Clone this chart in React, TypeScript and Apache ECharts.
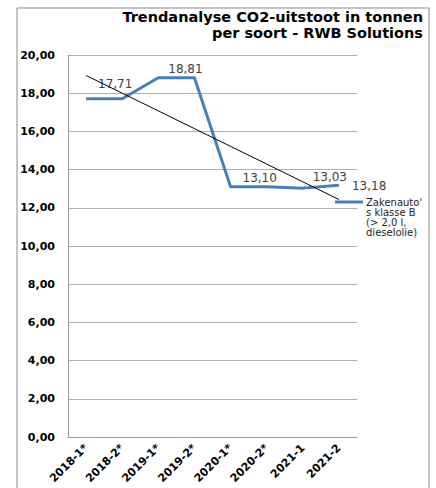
import React, { useEffect, useRef } from 'react';
import * as echarts from 'echarts';

const categories = ['2018-1*', '2018-2*', '2019-1*', '2019-2*', '2020-1*', '2020-2*', '2021-1', '2021-2'];
const seriesName = "Zakenauto's klasse B (> 2,0 l, dieselolie)";
const legendLines = ["Zakenauto'", 's klasse B', '(> 2,0 l,', 'dieselolie)'];
const values = [17.71, 17.71, 18.81, 18.81, 13.1, 13.1, 13.03, 13.18];
const labelledIndices = [1, 3, 5, 6, 7];
const titleLines = ['Trendanalyse CO2-uitstoot in tonnen', 'per soort - RWB Solutions'];
const yMin = 0;
const yMax = 20;
const yInterval = 2;

const labelLayout: Record<number, { position: string; offset: number[] }> = {
  1: { position: 'top', offset: [-7, -4] },
  3: { position: 'top', offset: [-9, 2] },
  5: { position: 'top', offset: [-7, 2] },
  6: { position: 'top', offset: [27, 0] },
  7: { position: 'right', offset: [8, 1] },
};

const fmt = (v: number) => v.toFixed(2).replace('.', ',');

function trend(ys: number[]): number[] {
  const n = ys.length;
  const xm = (n - 1) / 2;
  const ym = ys.reduce((a, b) => a + b, 0) / n;
  let sxy = 0;
  let sxx = 0;
  ys.forEach((y, i) => {
    sxy += (i - xm) * (y - ym);
    sxx += (i - xm) * (i - xm);
  });
  const slope = sxy / sxx;
  return ys.map((_, i) => +(ym + slope * (i - xm)).toFixed(3));
}

export default function App() {
  const ref = useRef<HTMLDivElement>(null);
  useEffect(() => {
    if (!ref.current) return;
    const chart = echarts.init(ref.current, null, { renderer: 'svg' });
    const blue = '#4a7ebb';
    const data = values.map((v, i) => {
      const l = labelLayout[i];
      if (labelledIndices.includes(i) && l) {
        return {
          value: v,
          label: {
            show: true,
            position: l.position,
            offset: l.offset,
            formatter: fmt(v),
            fontFamily: 'DejaVu Sans',
            fontSize: 12,
            color: '#404040',
          },
        };
      }
      return { value: v };
    });
    chart.setOption({
      animation: false,
      backgroundColor: '#ffffff',
      grid: { left: 68, right: 79, top: 55, bottom: 51 },
      xAxis: {
        type: 'category',
        data: categories,
        boundaryGap: true,
        axisLine: { show: true, lineStyle: { color: '#9a9a9a', width: 1 } },
        axisTick: { show: false },
        axisLabel: {
          rotate: 45,
          margin: 9,
          interval: 0,
          fontFamily: 'DejaVu Sans',
          fontWeight: 'bold',
          fontSize: 11,
          color: '#000',
        },
        splitLine: { show: false },
      },
      yAxis: {
        type: 'value',
        min: yMin,
        max: yMax,
        interval: yInterval,
        axisLine: { show: true, lineStyle: { color: '#9a9a9a', width: 1 } },
        axisTick: { show: false },
        axisLabel: {
          formatter: (v: number) => fmt(v),
          margin: 13,
          fontFamily: 'DejaVu Sans',
          fontWeight: 'bold',
          fontSize: 11,
          color: '#000',
        },
        splitLine: { show: true, lineStyle: { color: '#b0b0b0', width: 1 } },
      },
      series: [
        {
          name: seriesName,
          type: 'line',
          data,
          symbol: 'circle',
          symbolSize: 0,
          showSymbol: true,
          lineStyle: { color: blue, width: 3 },
          itemStyle: { color: blue },
          z: 3,
        },
        {
          name: 'Trend',
          type: 'line',
          data: trend(values),
          symbol: 'none',
          lineStyle: { color: '#000', width: 1 },
          itemStyle: { color: '#000' },
          z: 4,
          silent: true,
        },
      ],
      graphic: [
        {
          type: 'rect',
          shape: { x: 17, y: 8, width: 412, height: 500 },
          style: { fill: 'none', stroke: '#8a8a8a', lineWidth: 1 },
          silent: true,
        },
        {
          type: 'text',
          right: 13,
          top: 9,
          style: {
            text: titleLines[0],
            fontFamily: 'DejaVu Sans',
            fontWeight: 'bold',
            fontSize: 14.5,
            fill: '#000',
          },
        },
        {
          type: 'text',
          right: 13,
          top: 25,
          style: {
            text: titleLines[1],
            fontFamily: 'DejaVu Sans',
            fontWeight: 'bold',
            fontSize: 14.5,
            fill: '#000',
          },
        },
        {
          type: 'line',
          shape: { x1: 335, y1: 202, x2: 363, y2: 202 },
          style: { stroke: blue, lineWidth: 3 },
          z: 10,
        },
        {
          type: 'text',
          left: 366,
          top: 197,
          style: {
            text: legendLines.join('\n'),
            fontFamily: 'DejaVu Sans',
            fontSize: 10,
            lineHeight: 10,
            fill: '#262626',
          },
          z: 10,
        },
      ],
    });
    return () => chart.dispose();
  }, []);
  return (
    <div
      ref={ref}
      style={{ position: 'fixed', left: 0, top: 0, width: 436, height: 488 }}
    />
  );
}
